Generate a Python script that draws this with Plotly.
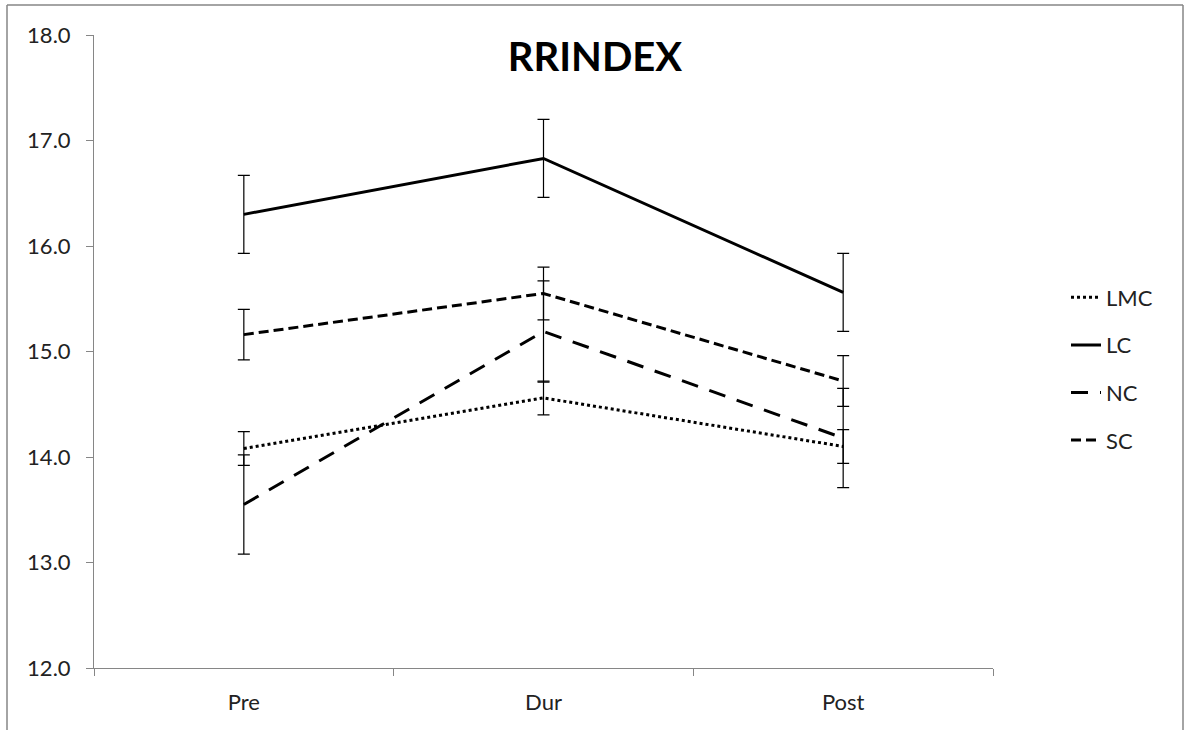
import plotly.graph_objects as go

categories = ["Pre", "Dur", "Post"]
series_names = ["LMC", "LC", "NC", "SC"]
lmc = [14.08, 14.56, 14.10]
lmc_err = [0.16, 0.16, 0.16]
lc = [16.30, 16.83, 15.56]
lc_err = [0.37, 0.37, 0.37]
nc = [13.55, 15.19, 14.18]
nc_err = [0.47, 0.48, 0.47]
sc = [15.16, 15.55, 14.72]
sc_err = [0.24, 0.25, 0.24]
y_ticks = [12, 13, 14, 15, 16, 17, 18]

values = [lmc, lc, nc, sc]
errors = [lmc_err, lc_err, nc_err, sc_err]
dashes = ["dot", "solid", "17px,12px", "10px,5px"]

FONT = "Lato, 'Open Sans', sans-serif"

fig = go.Figure()
for name, v, e, d in zip(series_names, values, errors, dashes):
    fig.add_trace(go.Scatter(
        x=categories, y=v, name=name, mode="lines", legendgroup=name,
        line=dict(color="black", width=3, dash=d),
        error_y=dict(type="data", array=e, visible=True, color="black",
                     thickness=1.2, width=6),
    ))

def px_x(p):
    return (p - 94) / 899

def px_y(p):
    return (668 - p) / 633

fig.update_layout(
    width=1186, height=730,
    margin=dict(l=94, r=193, t=35, b=62),
    paper_bgcolor="white", plot_bgcolor="white",
    title=dict(text="<b>RRINDEX</b>", x=595 / 1186, xanchor="center",
               y=1 - 57 / 730, yanchor="middle",
               font=dict(family=FONT, size=40, color="black")),
    font=dict(family=FONT, size=22, color="black"),
    showlegend=True,
    legend=dict(x=px_x(1066), xanchor="left", y=px_y(369), yanchor="middle",
                font=dict(size=22, color="#222222"), tracegroupgap=16,
                bgcolor="rgba(0,0,0,0)"),
    xaxis=dict(type="category", range=[-0.5, 2.5], showline=True,
               linecolor="#868686", linewidth=1, ticks="outside",
               tickson="boundaries", ticklen=7, tickcolor="#868686",
               showgrid=False, zeroline=False, ticklabelstandoff=15,
               tickfont=dict(size=22, color="#222222")),
    yaxis=dict(range=[12, 18], tickvals=y_ticks, tickformat=".1f",
               showline=True, linecolor="#868686", linewidth=1,
               ticks="outside", ticklen=7, tickcolor="#868686",
               showgrid=False, zeroline=False, ticklabelstandoff=11,
               tickfont=dict(size=22, color="#222222")),
    shapes=[
        dict(type="line", xref="paper", yref="paper", x0=px_x(7), x1=px_x(7),
             y0=px_y(5), y1=px_y(740), line=dict(color="#868686", width=1.5)),
        dict(type="line", xref="paper", yref="paper", x0=px_x(7), x1=px_x(1183),
             y0=px_y(5), y1=px_y(5), line=dict(color="#868686", width=1.5)),
        dict(type="line", xref="paper", yref="paper", x0=px_x(1183), x1=px_x(1183),
             y0=px_y(5), y1=px_y(740), line=dict(color="#868686", width=1.5)),
    ],
)

fig.write_html("out.html", config={"displayModeBar": False},
               post_script="document.body.style.margin='0';")
